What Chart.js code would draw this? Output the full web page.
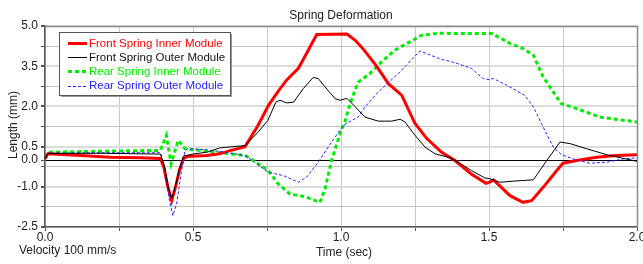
<!DOCTYPE html>
<html><head><meta charset="utf-8">
<script src="https://cdn.jsdelivr.net/npm/chart.js@4"></script>
<style>html,body{margin:0;padding:0;background:#fff;overflow:hidden}#c{display:block}</style>
</head><body><canvas id="c" width="643" height="264"></canvas>
<script>
const chartTitle = 'Spring Deformation';
const xTitle = 'Time (sec)';
const yTitle = 'Length (mm)';
const noteText = 'Velocity 100 mm/s';
const seriesNames = ['Front Spring Inner Module','Front Spring Outer Module','Rear Spring Inner Module','Rear Spring Outer Module'];

const frontInnerT = [0,0.01,0.12,0.22,0.32,0.39,0.402,0.415,0.428,0.44,0.455,0.468,0.48,0.546,0.59,0.625,0.676,0.72,0.755,0.79,0.816,0.856,0.884,0.918,1.02,1.05,1.078,1.12,1.16,1.205,1.25,1.29,1.34,1.385,1.44,1.49,1.503,1.515,1.54,1.571,1.615,1.644,1.683,1.729,1.75,1.796,1.864,1.93,2.0];
const frontInnerV = [0.05,0.23,0.17,0.1,0.08,0.06,-0.3,-1.0,-1.52,-1.05,-0.35,0.05,0.13,0.17,0.23,0.35,0.5,1.3,2.04,2.6,2.98,3.42,3.98,4.68,4.7,4.45,4.1,3.5,2.85,2.42,1.36,0.8,0.29,-0.02,-0.52,-0.87,-0.83,-0.74,-1.0,-1.33,-1.58,-1.52,-1.02,-0.39,-0.12,-0.02,0.1,0.17,0.2];

const frontOuterT = [0,0.01,0.2,0.39,0.403,0.416,0.428,0.44,0.455,0.468,0.5,0.55,0.59,0.676,0.72,0.753,0.78,0.794,0.816,0.84,0.873,0.906,0.923,0.946,0.98,0.997,1.02,1.047,1.081,1.126,1.171,1.2,1.216,1.25,1.284,1.318,1.363,1.396,1.44,1.486,1.503,1.537,1.605,1.65,1.695,1.74,1.774,1.83,1.9,2.0];
const frontOuterV = [0.05,0.25,0.25,0.22,-0.2,-1.0,-1.45,-1.0,-0.3,0.15,0.22,0.3,0.45,0.54,1.04,1.48,2.16,2.23,2.13,2.16,2.67,3.08,3.04,2.73,2.29,2.23,2.3,2.0,1.6,1.45,1.45,1.52,1.42,0.92,0.48,0.23,0.1,-0.08,-0.39,-0.67,-0.7,-0.83,-0.77,-0.74,-0.02,0.67,0.61,0.42,0.19,-0.05];

const rearInnerT = [0,0.01,0.2,0.39,0.41,0.426,0.45,0.473,0.52,0.608,0.676,0.704,0.754,0.788,0.828,0.878,0.929,0.946,0.968,0.997,1.014,1.025,1.047,1.058,1.098,1.137,1.182,1.233,1.273,1.33,1.4,1.51,1.571,1.615,1.65,1.683,1.717,1.745,1.796,1.875,1.954,2.0];
const rearInnerV = [0.1,0.29,0.33,0.36,0.92,-0.14,0.73,0.42,0.36,0.25,0.17,-0.02,-0.39,-0.89,-1.27,-1.37,-1.58,-1.08,-0.02,1.0,1.45,1.9,2.6,2.9,3.23,3.66,4.1,4.41,4.66,4.73,4.72,4.72,4.35,4.16,3.91,3.1,2.54,2.1,1.92,1.6,1.48,1.42];

const rearOuterT = [0,0.01,0.2,0.39,0.405,0.42,0.432,0.445,0.46,0.472,0.48,0.55,0.608,0.676,0.715,0.754,0.805,0.856,0.884,0.923,0.968,1.008,1.04,1.058,1.081,1.126,1.194,1.267,1.33,1.385,1.44,1.48,1.5,1.515,1.56,1.62,1.65,1.683,1.717,1.745,1.785,1.84,1.9,1.954,2.0];
const rearOuterV = [0.05,0.25,0.27,0.27,-0.3,-1.5,-2.08,-1.6,-0.5,0.3,0.42,0.38,0.29,0.17,-0.14,-0.46,-0.58,-0.83,-0.64,-0.08,0.67,1.29,1.5,1.6,1.98,2.54,3.23,4.07,3.79,3.63,3.42,3.04,3.0,3.04,2.79,2.42,1.98,1.23,0.48,0.2,0.04,-0.12,-0.08,0.04,0.08];

const xTickValues = [0,0.25,0.5,0.75,1.0,1.25,1.5,1.75,2.0];
const xLabelValues = [0,0.5,1.0,1.5,2.0];
const yTickValues = [-2.5,-1.75,-1.0,-0.25,0,0.5,1.25,2.0,2.75,3.5,4.25,5.0];
const yLabelValues = [-2.5,-1.0,0,0.5,2.0,3.5,5.0];

const FONT = "'Liberation Sans', Arial, sans-serif";
const pts = (T,V) => T.map((t,i)=>({x:t,y:V[i]}));

const styles = [
  {color:'#ff0000', width:3, dash:[], order:2},
  {color:'#000000', width:1, dash:[], order:0},
  {color:'#00ee00', width:3, dash:[4,3], order:3},
  {color:'#2222ff', width:1, dash:[3,2], order:1}
];
const textColors = ['#ff0000','#111111','#00ee00','#2222ff'];
const seriesData = [pts(frontInnerT,frontInnerV),pts(frontOuterT,frontOuterV),pts(rearInnerT,rearInnerV),pts(rearOuterT,rearOuterV)];

const overlay = {
  id:'overlay',
  afterDraw(chart){
    const ctx = chart.ctx, a = chart.chartArea;
    ctx.save();
    ctx.strokeStyle = '#8a8a8a'; ctx.lineWidth = 1.5;
    ctx.beginPath();
    ctx.moveTo(a.left, a.top+0.5); ctx.lineTo(a.right+0.5, a.top+0.5); ctx.lineTo(a.right+0.5, a.bottom);
    ctx.stroke();
    ctx.fillStyle = '#222'; ctx.font = '12px '+FONT; ctx.textAlign='center'; ctx.textBaseline='middle';
    ctx.fillText(chartTitle, (a.left+a.right)/2, 16);
    ctx.fillText(xTitle, (a.left+a.right)/2+3, 253);
    ctx.textAlign='left';
    ctx.fillText(noteText, 19, 251);
    ctx.save();
    ctx.translate(14, 125); ctx.rotate(-Math.PI/2); ctx.textAlign='center';
    ctx.fillText(yTitle, 0, 0);
    ctx.restore();
    const bx=59, by=32, bw=171, bh=63;
    ctx.fillStyle='#9a9a9a'; ctx.fillRect(bx+2, by+2, bw, bh);
    ctx.fillStyle='#fff'; ctx.fillRect(bx, by, bw, bh);
    ctx.strokeStyle='#555'; ctx.lineWidth=1; ctx.strokeRect(bx+0.5, by+0.5, bw, bh);
    ctx.font='11.5px '+FONT; ctx.textBaseline='middle'; ctx.textAlign='left';
    for(let i=0;i<4;i++){
      const y = 43 + i*14.2;
      const off = styles[i].width%2?0.5:0;
      ctx.strokeStyle = styles[i].color; ctx.lineWidth = styles[i].width; ctx.setLineDash(styles[i].dash);
      ctx.beginPath(); ctx.moveTo(68, Math.round(y)+off); ctx.lineTo(87, Math.round(y)+off); ctx.stroke();
      ctx.setLineDash([]);
      ctx.fillStyle = textColors[i];
      ctx.fillText(seriesNames[i], 89, y+0.5);
    }
    ctx.restore();
  }
};

new Chart(document.getElementById('c'), {
  type:'line',
  data:{ datasets: seriesData.map((d,i)=>({
    label: seriesNames[i], data:d, borderColor:styles[i].color, backgroundColor:styles[i].color,
    borderWidth:styles[i].width, borderDash:styles[i].dash, pointRadius:0, tension:0, order:styles[i].order, fill:false
  }))},
  options:{
    responsive:false, animation:false, devicePixelRatio:1,
    layout:{padding:{top:26,right:6,left:0,bottom:0}},
    plugins:{legend:{display:false}, title:{display:false}, tooltip:{enabled:false}},
    scales:{
      x:{ type:'linear', min:0, max:2,
        afterBuildTicks(s){ s.ticks = xTickValues.map(v=>({value:v})); },
        afterFit(s){ s.height = 37; s.paddingLeft=0; s.paddingRight=0; },
        ticks:{ autoSkip:false, maxRotation:0, minRotation:0, padding:-1, color:'#222', font:{size:12, family:FONT},
          callback:(v)=> xLabelValues.some(l=>Math.abs(l-v)<1e-9) ? Number(v).toFixed(1) : '' },
        grid:{ color:'#c8c8c8', lineWidth:1, tickLength:4, tickColor:'#555' },
        border:{ color:'#555', width:1.5 }
      },
      y:{ type:'linear', min:-2.5, max:5,
        afterBuildTicks(s){ s.ticks = yTickValues.map(v=>({value:v})); },
        afterFit(s){ s.width = 45; s.paddingTop=0; s.paddingBottom=0; },
        ticks:{ autoSkip:false, padding:3, color:'#222', font:{size:12, family:FONT},
          callback:(v)=> yLabelValues.some(l=>Math.abs(l-v)<1e-9) ? Number(v).toFixed(1) : '' },
        grid:{
          color:(c)=> { const v=c.tick&&c.tick.value; if(v===0) return '#000'; return yLabelValues.includes(v)?'#dcdcdc':'#c4c4c4'; },
          lineWidth:(c)=> { const v=c.tick&&c.tick.value; if(v===0) return 1; return yLabelValues.includes(v)?2:1; },
          tickColor:'#555', tickLength:4
        },
        border:{ color:'#555', width:1.5 }
      }
    }
  },
  plugins:[overlay]
});
</script>
</body></html>
